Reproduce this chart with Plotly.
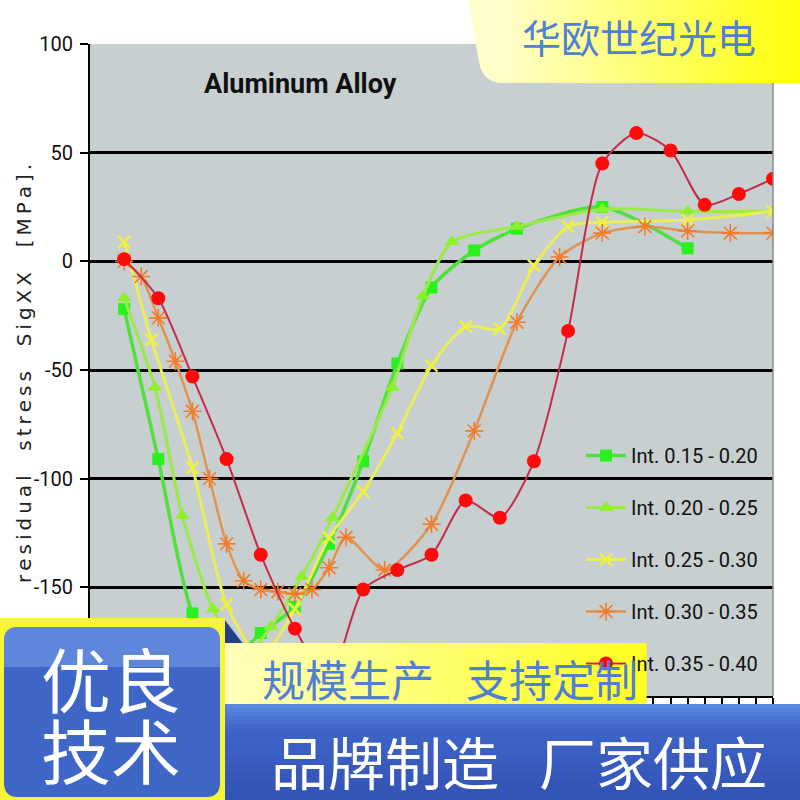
import plotly.graph_objects as go

# ---------------- data ----------------
title_text = "Aluminum Alloy"
y_title = "residual  stress  SigXX  [MPa]."
series_names = ["Int. 0.15 - 0.20", "Int. 0.20 - 0.25", "Int. 0.25 - 0.30",
                "Int. 0.30 - 0.35", "Int. 0.35 - 0.40"]

s1_x = [1, 2, 3, 4, 5, 6, 7, 8, 9, 10, 11.25, 12.5, 15, 17.5]
s1_y = [-22, -91, -162, -185, -171, -159, -130, -92, -47, -12, 5, 15, 25, 6]

s2_x = [1, 1.9, 2.7, 3.6, 4.5, 5.3, 6.2, 7.1, 8.85, 9.75, 10.6, 12.5, 15, 17.5, 20]
s2_y = [-17, -58, -117, -160, -182, -168, -145, -118, -58, -16, 9, 16, 24, 23, 23]

s3_x = [1, 1.8, 3, 4, 5, 6, 7, 8, 9, 10, 11, 12, 13, 14, 15, 17.5, 20]
s3_y = [9, -36, -95, -158, -182, -160, -127, -106, -79, -48, -30, -31, -2, 16, 18, 19, 23]

s4_x = [1, 1.5, 2, 2.5, 3, 3.5, 4, 4.5, 5, 5.5, 6, 6.5, 7, 7.5, 8.625, 10, 11.25,
        12.5, 13.75, 15, 16.25, 17.5, 18.75, 20]
s4_y = [0, -7, -26, -46, -69, -100, -130, -147, -151, -152, -153, -151, -141, -127,
        -142, -121, -78, -28, 2, 13, 16, 14, 13, 13]

s5_x = list(range(1, 21))
s5_y = [1, -17, -53, -91, -135, -169, -192, -151, -142, -135, -110, -118, -92, -32,
        45, 59, 51, 26, 31, 38]

y_ticks = [100, 50, 0, -50, -100, -150, -200]
y_tick_labels = ["100", "50", "0", "-50", "-100", "-150", "-200"]

banner_top = "华欧世纪光电"
box_lines = ["优良", "技术"]
band_mid = ["规模生产", "支持定制"]
band_bot = ["品牌制造", "厂家供应"]

# ---------------- layout helpers ----------------
W, H = 800, 800
L, R, T, B = 90, 27, 44, 104
PW, PH = W - L - R, H - T - B


def X(px):
    return (px - L) / PW


def Y(py):
    return (H - B - py) / PH


def lerp(c1, c2, t):
    return "rgb(%d,%d,%d)" % tuple(round(a + (b - a) * t) for a, b in zip(c1, c2))


fig = go.Figure()

styles = [
    dict(line=dict(color="#4FE03A", width=3.5, shape="spline", smoothing=0.7),
         marker=dict(symbol="square", size=12, color="#2AF020")),
    dict(line=dict(color="#9BEA4A", width=3, shape="spline", smoothing=0.7),
         marker=dict(symbol="triangle-up", size=13, color="#8CF02A")),
    dict(line=dict(color="#EAEE5A", width=3, shape="spline", smoothing=0.7),
         marker=dict(symbol="x-thin-open", size=12, color="#F0F040", line=dict(width=2.5, color="#F0F040"))),
    dict(line=dict(color="#E09250", width=2.5, shape="spline", smoothing=0.7),
         marker=dict(symbol="asterisk-open", size=15, color="#F57A25", line=dict(width=1.6, color="#F57A25"))),
    dict(line=dict(color="#C42A4C", width=2, shape="spline", smoothing=0.7),
         marker=dict(symbol="circle", size=14, color="#FF0A0A")),
]
xs = [s1_x, s2_x, s3_x, s4_x, s5_x]
ys = [s1_y, s2_y, s3_y, s4_y, s5_y]
for i in range(5):
    fig.add_trace(go.Scatter(x=xs[i], y=ys[i], mode="lines+markers", name=series_names[i],
                             legendgroup="g%d" % i, cliponaxis=True, **styles[i]))

shapes = []
annotations = []

# right border of plot
shapes.append(dict(type="line", xref="paper", yref="paper", x0=1, x1=1, y0=0, y1=1,
                   line=dict(color="#8A8A8A", width=1.5), layer="above"))

# ---- top-right yellow banner ----
c_pale = (255, 255, 205)
c_bright = (255, 255, 10)
path = "M %f,%f L %f,%f Q %f,%f %f,%f L %f,%f L %f,%f Z" % (
    X(468), Y(0), X(479), Y(62), X(483), Y(83), X(503), Y(83), X(800), Y(83), X(800), Y(0))
shapes.append(dict(type="path", path=path, xref="paper", yref="paper",
                   fillcolor=lerp(c_pale, c_bright, 0), line=dict(width=0), layer="above"))
n = 30
x_start, x_end = 500, 800
for k in range(n):
    a = x_start + (x_end - x_start) * k / n
    b = x_start + (x_end - x_start) * (k + 1) / n
    shapes.append(dict(type="rect", xref="paper", yref="paper", x0=X(a), x1=X(b) + 0.001,
                       y0=Y(83), y1=Y(0), fillcolor=lerp(c_pale, c_bright, (k + 0.5) / n),
                       line=dict(width=0), layer="above"))
annotations.append(dict(text=banner_top, x=X(639), y=Y(36), xref="paper", yref="paper",
                        showarrow=False, xanchor="center", yanchor="middle",
                        font=dict(family="Noto Sans CJK SC", size=39, color="#4F80D2")))

# ---- dark corner behind the middle band ----
tri = "M %f,%f L %f,%f L %f,%f Z" % (X(224), Y(619), X(224), Y(645), X(244), Y(645))
shapes.append(dict(type="path", path=tri, xref="paper", yref="paper",
                   fillcolor="#223F8E", line=dict(width=0), layer="above"))

# ---- yellow middle band ----
c_band_l = (255, 255, 190)
c_band_r = (255, 255, 30)
xa, xb = 222, 646
for k in range(n):
    a = xa + (xb - xa) * k / n
    b = xa + (xb - xa) * (k + 1) / n
    shapes.append(dict(type="rect", xref="paper", yref="paper", x0=X(a), x1=X(b) + 0.001,
                       y0=Y(706), y1=Y(643), fillcolor=lerp(c_band_l, c_band_r, (k + 0.5) / n),
                       line=dict(width=0), layer="above"))
for txt, cx in zip(band_mid, [348, 552]):
    annotations.append(dict(text=txt, x=X(cx), y=Y(678), xref="paper", yref="paper",
                            showarrow=False, xanchor="center", yanchor="middle",
                            font=dict(family="Noto Sans CJK SC", size=43, color="#4F80D2")))

# ---- bottom blue band ----
c_blue_top = (92, 140, 228)
c_blue_mid = (62, 100, 200)
c_blue_bot = (50, 82, 180)
ya, yb = 704, 800
m = 24
for k in range(m):
    a = ya + (yb - ya) * k / m
    b = ya + (yb - ya) * (k + 1) / m
    t = (k + 0.5) / m
    col = lerp(c_blue_top, c_blue_mid, t / 0.25) if t < 0.25 else lerp(c_blue_mid, c_blue_bot, (t - 0.25) / 0.75)
    shapes.append(dict(type="rect", xref="paper", yref="paper", x0=X(222), x1=X(800),
                       y0=Y(b) - 0.001, y1=Y(a), fillcolor=col, line=dict(width=0), layer="above"))
for txt, cx in zip(band_bot, [385, 653]):
    annotations.append(dict(text=txt, x=X(cx), y=Y(760), xref="paper", yref="paper",
                            showarrow=False, xanchor="center", yanchor="middle",
                            font=dict(family="Noto Sans CJK SC", size=57, color="#FFFFFF")))

# ---- left blue box with yellow border ----
shapes.append(dict(type="rect", xref="paper", yref="paper", x0=X(0), x1=X(225),
                   y0=Y(800), y1=Y(618), fillcolor="#F8F436", line=dict(width=0), layer="above"))
r = 14
x0b, x1b, y0b, y1b = 4, 220, 627, 797
box_path = ("M %f,%f L %f,%f Q %f,%f %f,%f L %f,%f Q %f,%f %f,%f L %f,%f Q %f,%f %f,%f "
            "L %f,%f Q %f,%f %f,%f Z") % (
    X(x0b + r), Y(y0b), X(x1b - r), Y(y0b), X(x1b), Y(y0b), X(x1b), Y(y0b + r),
    X(x1b), Y(y1b - r), X(x1b), Y(y1b), X(x1b - r), Y(y1b),
    X(x0b + r), Y(y1b), X(x0b), Y(y1b), X(x0b), Y(y1b - r),
    X(x0b), Y(y0b + r), X(x0b), Y(y0b), X(x0b + r), Y(y0b))
shapes.append(dict(type="path", path=box_path, xref="paper", yref="paper",
                   fillcolor="#3E66C6", line=dict(width=0), layer="above"))
hl_path = ("M %f,%f L %f,%f Q %f,%f %f,%f L %f,%f L %f,%f L %f,%f Q %f,%f %f,%f Z") % (
    X(x0b + r), Y(y0b), X(x1b - r), Y(y0b), X(x1b), Y(y0b), X(x1b), Y(y0b + r),
    X(x1b), Y(y0b + 40), X(x0b), Y(y0b + 40), X(x0b), Y(y0b + r),
    X(x0b), Y(y0b), X(x0b + r), Y(y0b))
shapes.append(dict(type="path", path=hl_path, xref="paper", yref="paper",
                   fillcolor="rgba(120,160,235,0.55)", line=dict(width=0), layer="above"))
for txt, cy in zip(box_lines, [677, 748]):
    annotations.append(dict(text=txt, x=X(111), y=Y(cy), xref="paper", yref="paper",
                            showarrow=False, xanchor="center", yanchor="middle",
                            font=dict(family="Noto Sans CJK SC", size=70, color="#FFFFFF")))

# ---- chart title and y axis title ----
annotations.append(dict(text=title_text, x=X(300), y=Y(84), xref="paper", yref="paper",
                        showarrow=False, xanchor="center", yanchor="middle",
                        font=dict(family="Roboto", size=27, color="#111111", weight="bold")))
spaced_title = "\u2009".join(y_title)
annotations.append(dict(text=spaced_title, x=X(24), y=Y(374), xref="paper", yref="paper",
                        showarrow=False, xanchor="center", yanchor="middle", textangle=-90,
                        font=dict(family="DejaVu Sans", size=20, color="#222222")))

fig.update_layout(
    width=W, height=H,
    margin=dict(l=L, r=R, t=T, b=B, pad=0),
    paper_bgcolor="#FFFFFF",
    plot_bgcolor="#C7CFD1",
    showlegend=True,
    legend=dict(x=X(581), y=Y(436), xanchor="left", yanchor="top",
                bgcolor="rgba(0,0,0,0)", borderwidth=0,
                font=dict(family="Roboto", size=20, color="#111111"),
                traceorder="grouped", tracegroupgap=23, itemwidth=40),
    shapes=shapes,
    annotations=annotations,
    xaxis=dict(range=[0, 20], dtick=0.5, showgrid=False, zeroline=False,
               showline=True, linecolor="#000000", linewidth=2,
               ticks="outside", ticklen=10, tickwidth=1.5, tickcolor="#000000",
               showticklabels=False),
    yaxis=dict(range=[-200, 100], tickvals=y_ticks, ticktext=y_tick_labels,
               showgrid=True, gridcolor="#000000",
               gridwidth=3, zeroline=False, showline=True, linecolor="#000000", linewidth=2,
               ticks="outside", ticklen=8, tickwidth=2, tickcolor="#000000",
               ticklabelstandoff=3,
               tickfont=dict(family="Roboto", size=20, color="#111111")),
)

fig.write_html("out.html", config={"displayModeBar": False},
               post_script="document.body.style.margin='0';")
